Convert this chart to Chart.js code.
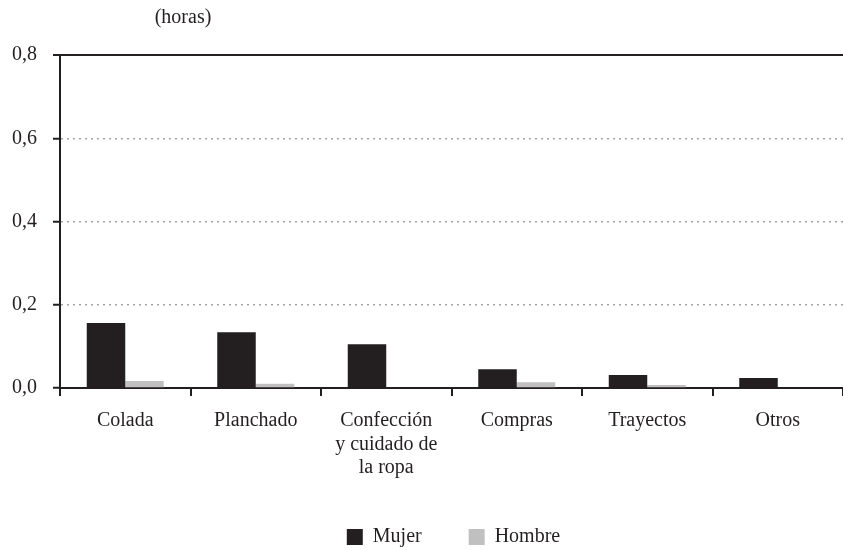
<!DOCTYPE html>
<html>
<head>
    <meta charset="utf-8">
    <title>Horas por tarea</title>
    <script src="https://cdn.jsdelivr.net/npm/chart.js"></script>
    <style>
        body { margin: 0; background: #fff; }
    </style>
</head>
<body>
    <canvas id="chart" width="843" height="550"></canvas>

    <script>
        var categories = ['Colada', 'Planchado', ['Confección', 'y cuidado de', 'la ropa'], 'Compras', 'Trayectos', 'Otros'];
        var mujer = [0.156, 0.134, 0.105, 0.045, 0.031, 0.024];
        var hombre = [0.017, 0.010, 0.002, 0.014, 0.007, 0.000];
        var yTicks = [0, 0.2, 0.4, 0.6, 0.8];

        var black = '#231f20';
        Chart.defaults.font.family = "'Liberation Serif', 'Times New Roman', serif";
        Chart.defaults.font.size = 20;
        Chart.defaults.color = black;

        // "(horas)" above the axis, and move the legend to where it sits in the original
        var extras = {
            id: 'extras',
            afterLayout: function (chart) {
                var lg = chart.legend;
                lg.left += 32; lg.right += 32;
                lg.top = 480; lg.bottom = 550;
            },
            afterDraw: function (chart) {
                var c = chart.ctx;
                c.save();
                c.font = "20px 'Liberation Serif', serif";
                c.fillStyle = black;
                c.textAlign = 'center';
                c.textBaseline = 'middle';
                c.fillText('(horas)', 183, 18);
                c.restore();
            }
        };

        var ctx = document.getElementById('chart').getContext('2d');
        var chart = new Chart(ctx, {
            type: 'bar',
            data: {
                labels: categories,
                datasets: [{
                    label: 'Mujer',
                    data: mujer,
                    backgroundColor: black
                }, {
                    label: 'Hombre',
                    data: hombre,
                    backgroundColor: '#c0c0c0'
                }]
            },
            options: {
                responsive: false,
                animation: false,
                categoryPercentage: 0.59,
                barPercentage: 1,
                layout: { padding: { top: 55, right: 0, left: 0, bottom: 0 } },
                plugins: {
                    title: { display: false },
                    tooltip: { enabled: false },
                    legend: {
                        position: 'bottom',
                        maxHeight: 40,
                        labels: {
                            boxWidth: 16,
                            boxHeight: 16,
                            padding: 47,
                            font: { size: 20 }
                        }
                    }
                },
                scales: {
                    x: {
                        afterFit: function (s) { s.height = 122; },
                        grid: {
                            offset: true,
                            drawOnChartArea: false,
                            tickLength: 8,
                            color: black,
                            lineWidth: 2
                        },
                        border: { color: black, width: 2 },
                        ticks: {
                            padding: 13,
                            maxRotation: 0,
                            autoSkip: false,
                            font: { size: 20, lineHeight: 1.175 }
                        }
                    },
                    y: {
                        min: 0,
                        max: 0.8,
                        afterFit: function (s) { s.width = 60; },
                        afterBuildTicks: function (s) {
                            s.ticks = yTicks.map(function (v) { return { value: v }; });
                        },
                        grid: {
                            tickLength: 7,
                            tickColor: black,
                            tickWidth: 2,
                            color: function (c) {
                                if (!c.tick) return black;
                                if (c.tick.value < 0.01) return 'rgba(0,0,0,0)';
                                if (c.tick.value > 0.79) return black;
                                return '#a3a3a3';
                            },
                            lineWidth: function (c) {
                                return (c.tick && c.tick.value > 0.79) ? 2 : 1.5;
                            }
                        },
                        border: {
                            color: black,
                            width: 2,
                            dash: function (c) {
                                return (c.tick && c.tick.value > 0.01 && c.tick.value < 0.79) ? [2, 4] : [];
                            }
                        },
                        ticks: {
                            padding: 16,
                            font: { size: 20 },
                            callback: function (v) { return Number(v).toFixed(1).replace('.', ','); }
                        }
                    }
                }
            },
            plugins: [extras]
        });
    </script>
</body>
</html>
